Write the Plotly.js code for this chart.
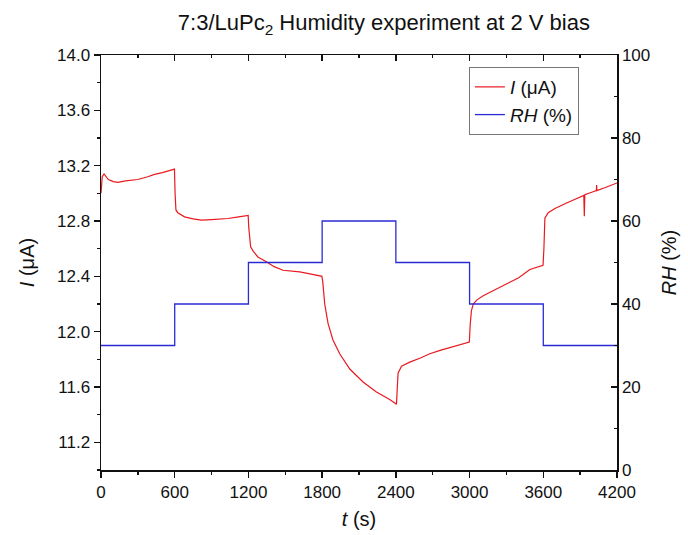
<!DOCTYPE html>
<html>
<head>
<meta charset="utf-8">
<script src="https://cdn.plot.ly/plotly-3.0.1.min.js"></script>
<style>html,body{margin:0;padding:0;background:#fff;}#chart{width:688px;height:535px;}</style>
</head>
<body>
<div id="chart"></div>
<script>
// Current I (µA) vs time t (s)
const timeI = [0, 10, 25, 60, 100, 137, 200, 246, 300, 380, 436, 500, 560, 598,
  603, 610, 625, 680, 750, 816, 900, 1033, 1120, 1198,
  1203, 1210, 1218, 1240, 1277, 1346, 1410, 1481, 1550, 1617, 1690, 1753, 1798,
  1805, 1821, 1848, 1888, 1943, 2025, 2133, 2242, 2350, 2405,
  2412, 2418, 2446, 2513, 2600, 2676, 2760, 2839, 2920, 2998,
  3005, 3015, 3030, 3060, 3111, 3200, 3301, 3400, 3491, 3598,
  3605, 3613, 3640, 3695, 3790, 3860, 3930, 3934, 3938, 4000, 4032, 4034, 4036, 4100, 4200];
const currentI = [13.00, 13.12, 13.14, 13.10, 13.085, 13.08, 13.09, 13.095, 13.10, 13.12, 13.137, 13.15, 13.165, 13.175,
  13.00, 12.88, 12.86, 12.83, 12.815, 12.806, 12.81, 12.818, 12.83, 12.84,
  12.75, 12.66, 12.613, 12.58, 12.54, 12.505, 12.47, 12.444, 12.44, 12.432, 12.42, 12.41, 12.40,
  12.36, 12.20, 12.06, 11.94, 11.84, 11.73, 11.636, 11.564, 11.51, 11.475,
  11.60, 11.70, 11.75, 11.78, 11.81, 11.84, 11.865, 11.885, 11.905, 11.925,
  12.05, 12.15, 12.20, 12.23, 12.26, 12.30, 12.35, 12.39, 12.45, 12.48,
  12.60, 12.82, 12.86, 12.89, 12.93, 12.96, 12.985, 12.835, 12.99, 13.01, 13.02, 13.06, 13.02, 13.04, 13.075];

// Relative humidity steps (%)
const timeRH = [0, 600, 1200, 1800, 2400, 3000, 3600, 4200];
const valuesRH = [30, 40, 50, 60, 50, 40, 30, 30];

const xTicks = [0, 600, 1200, 1800, 2400, 3000, 3600, 4200];

const font = "Liberation Sans, Arial, sans-serif";

const traces = [
  {x: timeI, y: currentI, type: 'scatter', mode: 'lines', name: '<i>I</i> (μA)',
   line: {color: '#e8191f', width: 1.2}, xaxis: 'x', yaxis: 'y'},
  {x: timeRH, y: valuesRH, type: 'scatter', mode: 'lines', name: '<i>RH</i> (%)',
   line: {color: '#2b2bd6', width: 1.3, shape: 'hv'}, xaxis: 'x', yaxis: 'y2'}
];

const layout = {
  width: 688, height: 535,
  margin: {l: 101, r: 71, t: 55, b: 65},
  paper_bgcolor: '#fff', plot_bgcolor: '#fff',
  font: {family: font, color: '#111', size: 17},
  showlegend: true,
  title: {text: '7:3/LuPc<sub>2</sub> Humidity experiment at 2 V bias',
    font: {family: font, size: 22, color: '#111'},
    xref: 'container', x: 0.558, xanchor: 'center',
    yref: 'container', y: 0.958, yanchor: 'middle'},
  legend: {x: 0.713, y: 0.971, xanchor: 'left', yanchor: 'top',
    bordercolor: '#777', borderwidth: 1, bgcolor: 'rgba(255,255,255,0)',
    font: {family: font, size: 19, color: '#111'}, tracegroupgap: 0},
  xaxis: {range: [0, 4200], tickvals: xTicks, ticktext: xTicks.map(String),
    ticks: 'outside', ticklen: 6, tickwidth: 1.3, tickcolor: '#111',
    minor: {dtick: 300, tick0: 0, ticks: 'outside', ticklen: 3, tickwidth: 1.3, tickcolor: '#111'},
    showline: true, linecolor: '#111', linewidth: 1.5, showgrid: false, zeroline: false,
    tickfont: {size: 17}, title: {text: '<i>t</i> (s)', font: {size: 20}, standoff: 11}},
  xaxis2: {range: [0, 4200], overlaying: 'x', side: 'top', matches: 'x',
    tickvals: xTicks, showticklabels: false,
    ticks: 'inside', ticklen: 6, tickwidth: 1.3, tickcolor: '#111',
    minor: {dtick: 300, tick0: 0, ticks: 'inside', ticklen: 3, tickwidth: 1.3, tickcolor: '#111'},
    showline: true, linecolor: '#111', linewidth: 1.5, showgrid: false, zeroline: false},
  yaxis: {range: [11, 14], tick0: 11.2, dtick: 0.4, tickformat: '.1f',
    ticks: 'outside', ticklen: 6, tickwidth: 1.3, tickcolor: '#111',
    minor: {dtick: 0.2, tick0: 11.0, ticks: 'outside', ticklen: 3, tickwidth: 1.3, tickcolor: '#111'},
    showline: true, linecolor: '#111', linewidth: 1.5, showgrid: false, zeroline: false,
    tickfont: {size: 17}, title: {text: '<i>I</i> (μA)', font: {size: 20}, standoff: 17}},
  yaxis2: {range: [0, 100], dtick: 20, overlaying: 'y', side: 'right',
    ticks: 'inside', ticklen: 6, tickwidth: 1.3, tickcolor: '#111',
    minor: {dtick: 10, ticks: 'inside', ticklen: 3, tickwidth: 1.3, tickcolor: '#111'},
    showline: true, linecolor: '#111', linewidth: 1.5, showgrid: false, zeroline: false,
    tickfont: {size: 17}, title: {text: '<i>RH</i> (%)', font: {size: 20}, standoff: 12}}
};

// invisible helper trace so the mirrored top x-axis (inward ticks) is drawn
traces.push({x: [0], y: [11], xaxis: 'x2', yaxis: 'y', mode: 'markers',
  marker: {opacity: 0}, showlegend: false, hoverinfo: 'skip'});

Plotly.newPlot('chart', traces, layout, {displayModeBar: false, staticPlot: true});
</script>
</body>
</html>
